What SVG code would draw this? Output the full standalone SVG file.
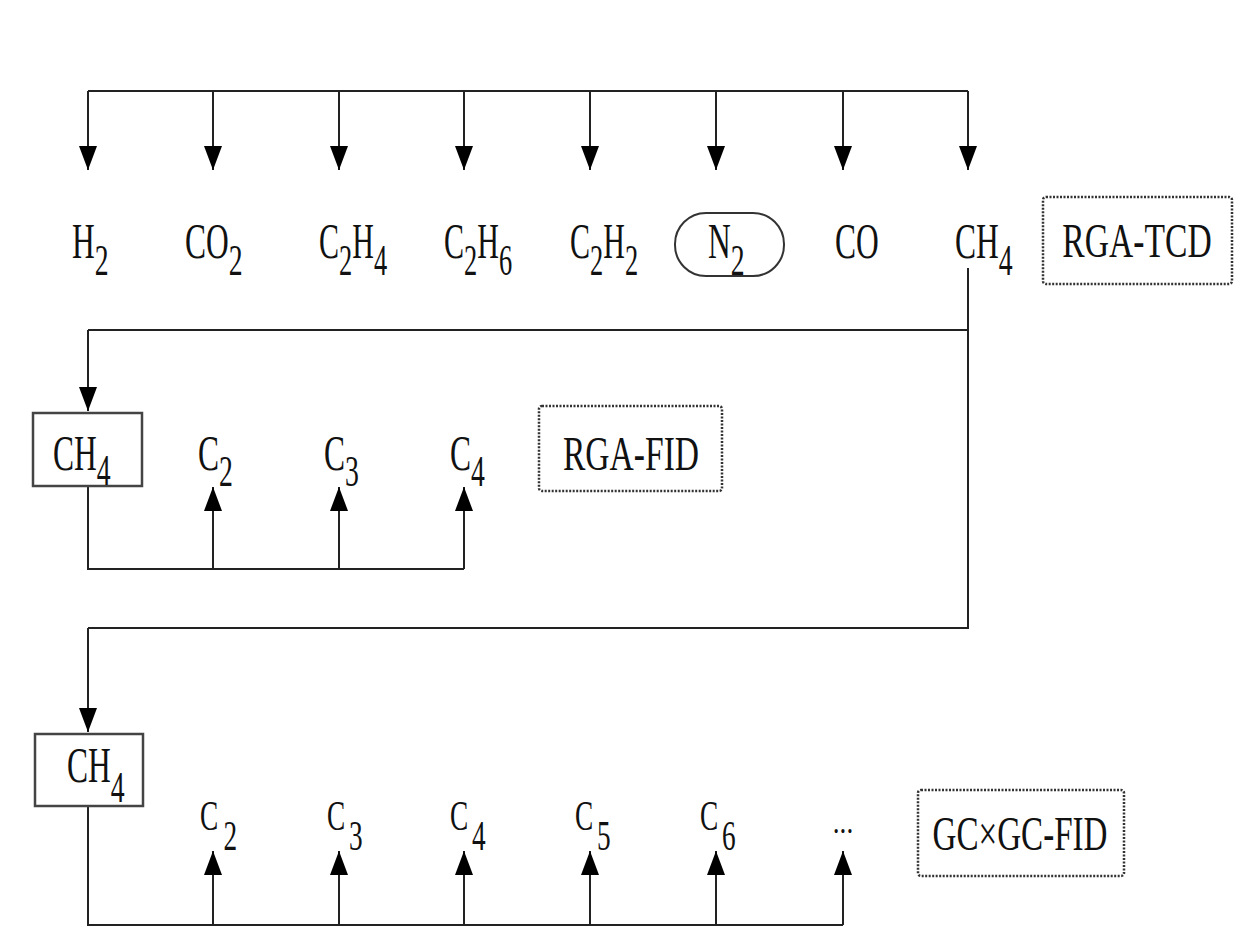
<svg xmlns="http://www.w3.org/2000/svg" width="1251" height="945" viewBox="0 0 1251 945">
<defs>
<marker id="ah" markerUnits="userSpaceOnUse" markerWidth="24" markerHeight="18" refX="24" refY="9" viewBox="0 0 24 18" orient="auto">
<path d="M0,0 L24,9 L0,18 Z" fill="#000"/>
</marker>
<style>
.t{font-family:"Liberation Serif","Times New Roman",serif;font-size:50px;fill:#111}
.s{font-size:44px}
.c{font-family:"Liberation Serif","Times New Roman",serif;font-size:42px;fill:#111}
.b{font-family:"Liberation Serif","Times New Roman",serif;font-size:48px;fill:#111;text-anchor:middle}
.ln{stroke:#222;stroke-width:2;fill:none}
.ar{stroke:#222;stroke-width:2;fill:none;marker-end:url(#ah)}
.dot{fill:none;stroke:#333;stroke-width:2.5;stroke-dasharray:2 1.5}
.box{fill:none;stroke:#444;stroke-width:2.5}
</style>
</defs>
<rect width="1251" height="945" fill="#fff"/>

<g id="connectors">
<path class="ln" d="M88,91 H968"/>
<path class="ar" d="M88,91 V170"/>
<path class="ar" d="M213,91 V170"/>
<path class="ar" d="M339,91 V170"/>
<path class="ar" d="M464,91 V170"/>
<path class="ar" d="M590,91 V170"/>
<path class="ar" d="M716,91 V170"/>
<path class="ar" d="M843,91 V170"/>
<path class="ar" d="M968,91 V170"/>
<path class="ln" d="M968,268 V628 H88"/>
<path class="ln" d="M968,330 H88"/>
<path class="ar" d="M88,330 V411"/>
<path class="ar" d="M88,628 V732"/>
<path class="ln" d="M88,487 V569 H464"/>
<path class="ar" d="M213,569 V487"/>
<path class="ar" d="M339,569 V487"/>
<path class="ar" d="M464,569 V487"/>
<path class="ln" d="M88,806 V925 H843"/>
<path class="ar" d="M213,925 V851"/>
<path class="ar" d="M339,925 V851"/>
<path class="ar" d="M464,925 V851"/>
<path class="ar" d="M590,925 V851"/>
<path class="ar" d="M716,925 V851"/>
<path class="ar" d="M843,925 V851"/>
</g>

<g id="n-h2"><text class="t" transform="translate(72,258) scale(0.63,1)">H<tspan class="s" dy="17">2</tspan></text></g>
<g id="n-co2"><text class="t" transform="translate(185,258) scale(0.63,1)">CO<tspan class="s" dy="17">2</tspan></text></g>
<g id="n-c2h4"><text class="t" transform="translate(319,258) scale(0.6,1)">C<tspan class="s" dy="17">2</tspan><tspan dy="-17">H</tspan><tspan class="s" dy="17">4</tspan></text></g>
<g id="n-c2h6"><text class="t" transform="translate(444,258) scale(0.6,1)">C<tspan class="s" dy="17">2</tspan><tspan dy="-17">H</tspan><tspan class="s" dy="17">6</tspan></text></g>
<g id="n-c2h2"><text class="t" transform="translate(570,258) scale(0.6,1)">C<tspan class="s" dy="17">2</tspan><tspan dy="-17">H</tspan><tspan class="s" dy="17">2</tspan></text></g>
<g id="n-n2">
<rect x="675" y="213" width="109" height="63" rx="31" ry="31" fill="#fff" stroke="#333" stroke-width="2"/>
<text class="t" transform="translate(708,258) scale(0.63,1)">N<tspan class="s" dy="17">2</tspan></text>
</g>
<g id="n-co"><text class="t" transform="translate(835,258) scale(0.63,1)">CO</text></g>
<g id="n-ch4-top"><text class="t" transform="translate(955,258) scale(0.63,1)">CH<tspan class="s" dy="17">4</tspan></text></g>
<g id="n-rga-tcd">
<rect class="dot" x="1043" y="197" width="189" height="87" rx="3"/>
<text class="b" transform="translate(1137,257) scale(0.7,1)">RGA-TCD</text>
</g>

<g id="n-ch4-fid">
<rect class="box" x="33" y="413" width="109" height="73" fill="#fff"/>
<text class="t" transform="translate(53,470) scale(0.63,1)">CH<tspan class="s" dy="15">4</tspan></text>
</g>
<g id="n-c2-fid"><text class="t" transform="translate(198,470) scale(0.63,1)">C<tspan class="s" dy="16">2</tspan></text></g>
<g id="n-c3-fid"><text class="t" transform="translate(324,470) scale(0.63,1)">C<tspan class="s" dy="16">3</tspan></text></g>
<g id="n-c4-fid"><text class="t" transform="translate(450,470) scale(0.63,1)">C<tspan class="s" dy="16">4</tspan></text></g>
<g id="n-rga-fid">
<rect class="dot" x="539" y="406" width="183" height="85" rx="3"/>
<text class="b" transform="translate(631,470) scale(0.7,1)">RGA-FID</text>
</g>

<g id="n-ch4-gc">
<rect class="box" x="35" y="734" width="108" height="72" fill="#fff"/>
<text class="t" transform="translate(67,782) scale(0.63,1)">CH<tspan class="s" dy="20">4</tspan></text>
</g>
<g id="n-c2-gc"><text class="c" transform="translate(200,830) scale(0.65,1)">C<tspan dy="20" dx="8">2</tspan></text></g>
<g id="n-c3-gc"><text class="c" transform="translate(327,830) scale(0.65,1)">C<tspan dy="20" dx="6">3</tspan></text></g>
<g id="n-c4-gc"><text class="c" transform="translate(450,830) scale(0.65,1)">C<tspan dy="20" dx="6">4</tspan></text></g>
<g id="n-c5-gc"><text class="c" transform="translate(575,830) scale(0.65,1)">C<tspan dy="20" dx="6">5</tspan></text></g>
<g id="n-c6-gc"><text class="c" transform="translate(700,830) scale(0.65,1)">C<tspan dy="20" dx="6">6</tspan></text></g>
<g id="n-more"><text class="c" text-anchor="middle" transform="translate(843,833) scale(0.8,1)" style="font-size:34px">...</text></g>
<g id="n-gcgc-fid">
<rect class="dot" x="918" y="790" width="206" height="86" rx="3"/>
<text class="b" transform="translate(1020,850) scale(0.69,1)">GC×GC-FID</text>
</g>
</svg>
